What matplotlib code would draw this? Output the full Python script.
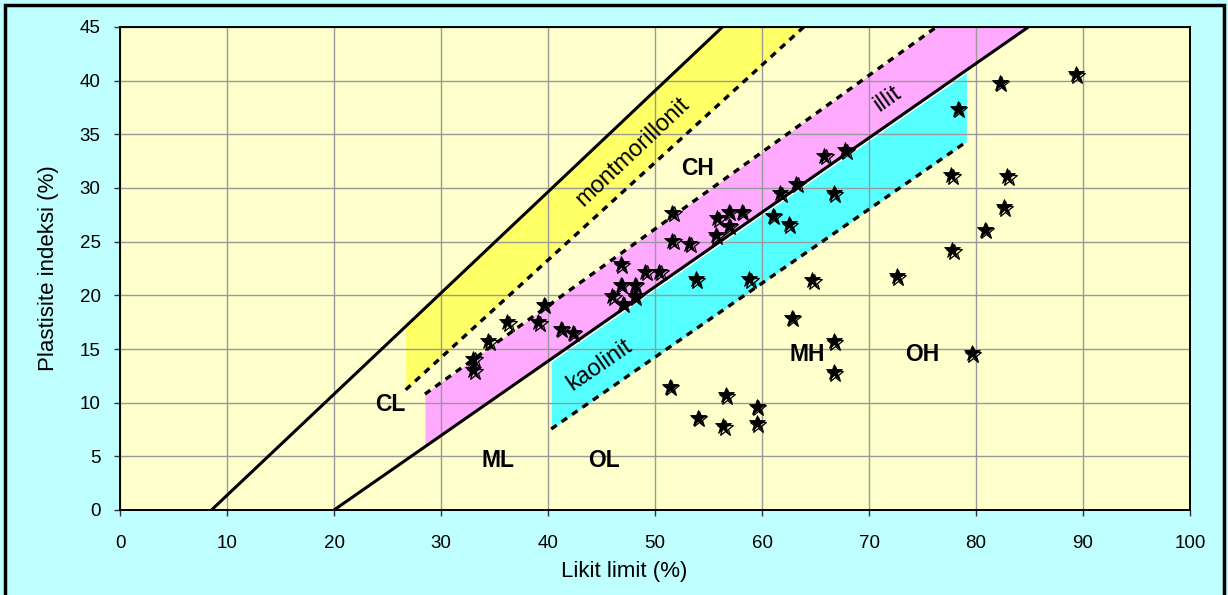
import numpy as np
import matplotlib
matplotlib.use("Agg")
import matplotlib.pyplot as plt
import matplotlib.transforms as mtransforms
from matplotlib.patches import Rectangle

plt.rcParams['font.family'] = ['Liberation Sans', 'DejaVu Sans']

# sınıflandırma çizgileri (LL, PI)
u_line_x = [8.55, 56.3]
u_line_y = [0.0, 45.0]
a_line_x = [20.0, 84.9]
a_line_y = [0.0, 45.0]

mont_x = [26.7, 63.9]
mont_y = [11.2, 45.0]
illit_x = [28.5, 76.3]
illit_y = [10.8, 45.0]
kaol_x = [40.3, 79.1]
kaol_y = [7.55, 34.3]

# deney sonuçları
ll = [46.8, 49.1, 50.4, 46.8, 48.1, 46.0, 48.1, 47.0, 39.6, 36.2,
      39.1, 41.2, 42.3, 34.4, 33.0, 33.0, 51.6, 55.8, 56.9, 58.1,
      56.9, 55.7, 51.6, 53.2, 61.0, 53.8, 58.8, 61.7, 63.2, 65.8,
      67.8, 66.7, 62.5, 64.7, 62.8, 66.7, 66.7, 51.4, 56.6, 59.5,
      54.0, 56.4, 59.5, 89.3, 82.2, 78.3, 77.7, 82.9, 82.6, 80.8,
      77.8, 72.6, 79.6]
pi = [22.9, 22.2, 22.2, 21.0, 21.0, 19.9, 19.9, 19.2, 19.1, 17.5,
      17.5, 16.9, 16.5, 15.7, 14.1, 13.0, 27.7, 27.2, 27.8, 27.8,
      26.5, 25.6, 25.1, 24.8, 27.4, 21.5, 21.5, 29.5, 30.4, 33.0,
      33.5, 29.5, 26.6, 21.4, 17.9, 15.7, 12.85, 11.5, 10.7, 9.6,
      8.6, 7.8, 8.1, 40.6, 39.8, 37.4, 31.2, 31.1, 28.2, 26.1,
      24.2, 21.8, 14.6]

# bölge etiketleri
zone_names = ['CH', 'CL', 'ML', 'OL', 'MH', 'OH']
zone_x = [54.0, 25.3, 35.3, 45.2, 64.2, 75.0]
zone_y = [31.8, 9.85, 4.65, 4.65, 14.5, 14.5]

mineral_names = ['montmorillonit', 'illit', 'kaolinit']
mineral_x = [47.9, 71.7, 44.8]
mineral_y = [33.4, 38.3, 13.5]
mineral_rot = [43.5, 35.0, 34.5]

fig = plt.figure(figsize=(12.28, 5.95), dpi=100, facecolor='#BFFFFF')
ax = fig.add_axes([120 / 1228, 1 - 510 / 595, 1070 / 1228, 483 / 595])
ax.set_facecolor('#FFFFCC')

# mineral bantları
x = np.array([mont_x[0], u_line_x[1], mont_x[1]])
ax.fill_between(x, np.interp(x, mont_x, mont_y), np.interp(x, u_line_x, u_line_y),
                color='#FFFF66', lw=0, zorder=1)
x = np.array([illit_x[0], illit_x[1], a_line_x[1]])
ax.fill_between(x, np.interp(x, a_line_x, a_line_y), np.interp(x, illit_x, illit_y),
                color='#FFAAFF', lw=0, zorder=1)
x = np.array([kaol_x[0], kaol_x[1]])
ax.fill_between(x, np.interp(x, kaol_x, kaol_y), np.interp(x, a_line_x, a_line_y),
                color='#55FFFF', lw=0, zorder=1)

# kaolinit üst kenarında ince beyaz çizgi
shift = mtransforms.ScaledTranslation(1 / 100, -2 / 100, fig.dpi_scale_trans)
ax.plot(x, np.interp(x, a_line_x, a_line_y), color='white', lw=1.2,
        transform=ax.transData + shift, zorder=1.2)

ax.plot(u_line_x, u_line_y, color='black', lw=2.2, zorder=2, solid_capstyle='butt')
ax.plot(a_line_x, a_line_y, color='black', lw=2.2, zorder=2, solid_capstyle='butt')
for xs, ys in [(mont_x, mont_y), (illit_x, illit_y), (kaol_x, kaol_y)]:
    ax.plot(xs, ys, color='black', lw=2.4, dashes=(2.0, 1.8), zorder=2)

# yıldızlar (dolu + kaydırılmış boş)
off = mtransforms.ScaledTranslation(1.5 / 100, -1.5 / 100, fig.dpi_scale_trans)
ax.plot(ll, pi, ls='none', marker='*', ms=12, mfc='none', mec='black', mew=0.9,
        transform=ax.transData + off, zorder=3)
ax.plot(ll, pi, ls='none', marker='*', ms=12, mfc='black', mec='black', mew=0.6, zorder=3)

for name, tx, ty in zip(zone_names, zone_x, zone_y):
    ax.text(tx, ty, name, fontsize=16.5, fontweight='bold', ha='center', va='center', zorder=4)
for name, tx, ty, rot in zip(mineral_names, mineral_x, mineral_y, mineral_rot):
    ax.text(tx, ty, name, fontsize=17, rotation=rot, ha='center', va='center',
            rotation_mode='anchor', zorder=4)

ax.set_xlim(0, 100)
ax.set_ylim(0, 45)
ax.set_xticks(np.arange(0, 101, 10))
ax.set_yticks(np.arange(0, 46, 5))
ax.grid(True, color='#999999', lw=1.0)
ax.set_axisbelow('line')
ax.tick_params(labelsize=13.5, length=4, width=1, color='#333333')
ax.tick_params(axis='x', pad=14)
ax.tick_params(axis='y', pad=10)
for s in ax.spines.values():
    s.set_color('black')
    s.set_linewidth(1.4)

ax.set_xlabel('Likit limit (%)', fontsize=16, ha='center', va='center')
ax.set_ylabel('Plastisite indeksi (%)', fontsize=16, ha='center', va='center')
ax.xaxis.set_label_coords(0.4715, -0.128)
ax.yaxis.set_label_coords(-0.067, 0.5)

# dış çerçeve
fig.add_artist(Rectangle((5 / 1228, -0.05), 1219 / 1228, 1.05 - 5 / 595,
                         transform=fig.transFigure, fill=False, ec='black', lw=2.5))

fig.savefig('out.png', dpi=100, facecolor=fig.get_facecolor())
